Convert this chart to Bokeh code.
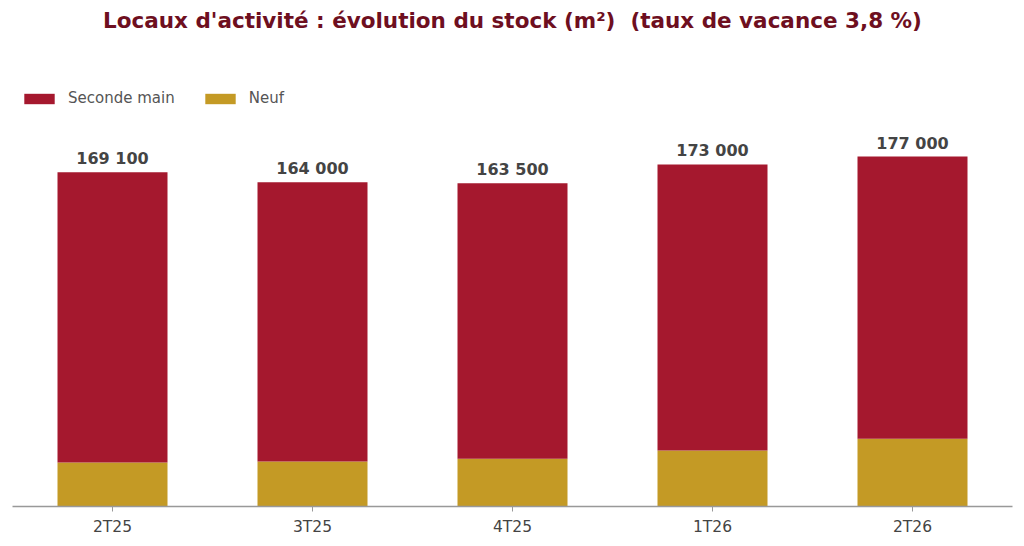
from bokeh.plotting import figure
from bokeh.models import Range1d, Legend, LegendItem, Label, ColumnDataSource
from bokeh.core.properties import value
from bokeh.embed import file_html
from bokeh.resources import INLINE

categories = ["2T25", "3T25", "4T25", "1T26", "2T26"]
totals = [169100, 164000, 163500, 173000, 177000]
neuf = [22200, 22700, 24200, 28300, 34300]
seconde = [t - n for t, n in zip(totals, neuf)]
labels = [f"{t:,}".replace(",", " ") for t in totals]
title_text = "Locaux d'activité : évolution du stock (m²)\u00a0 (taux de vacance 3,8 %)"

FONT = "DejaVu Sans"
C_SEC = "#A5182E"
C_NEUF = "#C49A25"

src = ColumnDataSource(dict(cat=categories, neuf=neuf, seconde=seconde,
                            total=totals, label=labels))

p = figure(x_range=categories, y_range=Range1d(0, 255900), width=1016, height=538,
           output_backend="svg", toolbar_location=None,
           min_border_left=12, min_border_right=4, min_border_top=0, min_border_bottom=31)
p.x_range.range_padding = 0
p.outline_line_color = None
p.xgrid.visible = False
p.ygrid.visible = False
p.yaxis.visible = False

r = p.vbar_stack(["neuf", "seconde"], x="cat", width=0.55, source=src,
                 color=[C_NEUF, C_SEC], line_color=None)

p.text(x="cat", y="total", text="label", source=src, text_align="center",
       text_baseline="bottom", y_offset=-4, text_font=value(FONT),
       text_font_size="16px", text_font_style="bold", text_color="#444444")

ax = p.xaxis[0]
ax.axis_line_color = "#999999"
ax.axis_line_width = 1.5
ax.major_tick_line_color = "#999999"
ax.major_tick_in = 0
ax.major_tick_out = 5
ax.minor_tick_line_color = None
ax.major_label_text_font = FONT
ax.major_label_text_font_size = "15.5px"
ax.major_label_text_color = "#444444"
ax.major_label_standoff = 6

legend = Legend(items=[LegendItem(label="Seconde main", renderers=[r[1]]),
                       LegendItem(label="Neuf", renderers=[r[0]])],
                orientation="horizontal", location=(8, 399),
                glyph_width=38, glyph_height=13, label_text_font=FONT,
                label_text_font_size="15px", label_text_color="#555555",
                border_line_color=None, background_fill_alpha=0,
                spacing=26, label_standoff=10, padding=4, margin=0)
p.add_layout(legend, "center")

title = Label(x=2.5, y=245800, text=title_text, text_align="center",
              text_baseline="middle", text_font=FONT, text_font_size="21.5px",
              text_font_style="bold", text_color="#6E0F1F")
p.add_layout(title)

open("out.html", "w").write(file_html(p, INLINE))
